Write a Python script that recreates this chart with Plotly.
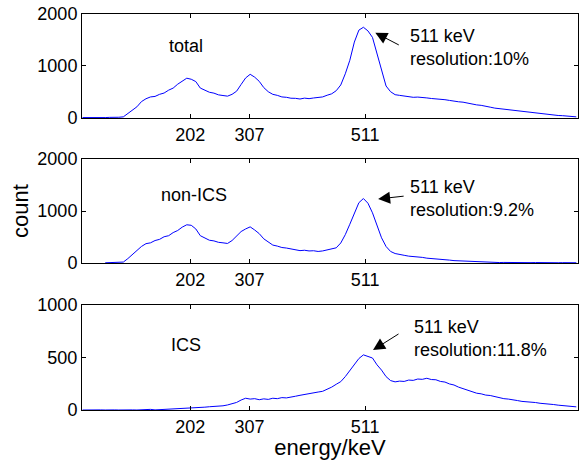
import plotly.graph_objects as go

# ---------------- data ----------------
energy = list(range(12, 885, 8))  # keV bin centres

total_counts = [8, 6, 9, 7, 10, 8, 12, 10, 14, 22,
                85, 150, 215, 315, 370, 405, 415, 455, 480, 535,
                575, 650, 710, 765, 745, 700, 575, 535, 495, 478,
                445, 432, 420, 455, 515, 645, 770, 840, 785, 705,
                585, 505, 455, 435, 405, 398, 380, 378, 365, 382,
                372, 385, 392, 405, 438, 465, 525, 635, 850, 1110,
                1460, 1690, 1745, 1675, 1550, 1240, 890, 615, 505, 448,
                435, 418, 412, 398, 402, 388, 386, 375, 372, 358,
                352, 338, 332, 312, 304, 282, 272, 252, 243, 220,
                208, 190, 180, 163, 155, 140, 133, 116, 110, 96,
                92, 78, 74, 63, 60, 48, 44, 34, 30, 22]

non_ics_counts = [None, None, None, None, None, 4, 6, 5, 9, 18,
                  85, 165, 250, 318, 372, 388, 432, 455, 505, 525,
                  585, 625, 690, 735, 725, 655, 525, 478, 438, 425,
                  398, 388, 376, 432, 515, 605, 655, 695, 635, 565,
                  465, 405, 345, 325, 298, 288, 268, 258, 238, 245,
                  232, 236, 222, 232, 248, 262, 292, 385, 545, 745,
                  955, 1160, 1240, 1150, 965, 715, 485, 318, 222, 182,
                  158, 148, 132, 127, 112, 108, 93, 88, 76, 72,
                  60, 56, 46, 42, 33, 30, 22, 21, 15, 15,
                  11, 12, 9, 11, 8, 10, 7, 9, 8, 7,
                  9, 6, 8, 6, 7, 5, 7, 5, 6, 5]

ics_counts = [0, 2, 0, 3, 1, 0, 4, 1, 0, 2,
              5, 1, 0, 3, 2, 6, 1, 3, 4, 6,
              8, 9, 12, 14, 18, 20, 25, 27, 31, 33,
              36, 40, 48, 58, 72, 95, 112, 104, 108, 98,
              106, 101, 112, 108, 118, 115, 126, 131, 140, 146,
              155, 160, 171, 178, 195, 218, 245, 270, 318, 372,
              430, 490, 525, 510, 495, 430, 380, 318, 280, 268,
              275, 272, 285, 282, 295, 292, 302, 290, 288, 272,
              266, 248, 238, 218, 205, 185, 176, 160, 154, 142,
              138, 126, 120, 108, 104, 94, 90, 82, 80, 73,
              71, 64, 62, 55, 52, 46, 43, 38, 35, 30]

x_tick_vals = [202, 307, 511]
panel_names = ["total", "non-ICS", "ICS"]
resolutions = ["10%", "9.2%", "11.8%"]
y_maxes = [2000, 2000, 1000]
y_tick_sets = [[0, 1000, 2000], [0, 1000, 2000], [0, 500, 1000]]

# ---------------- figure ----------------
FONT = "Arial, Liberation Sans, sans-serif"
fig = go.Figure()
series = [total_counts, non_ics_counts, ics_counts]
for i, s in enumerate(series):
    fig.add_trace(go.Scatter(
        x=energy, y=s, mode="lines",
        line=dict(color="#0000ff", width=1),
        xaxis="x" if i == 0 else f"x{i+1}",
        yaxis="y" if i == 0 else f"y{i+1}",
        showlegend=False, connectgaps=False))

domains = [[0.7374, 1.0], [0.3712, 0.6338], [0.0, 0.2652]]
axis_common = dict(showline=True, linecolor="black", linewidth=1, mirror="ticks",
                   ticks="inside", ticklen=4, tickcolor="black", showgrid=False,
                   zeroline=False, tickfont=dict(family=FONT, size=18, color="black"))
layout = {}
for i in range(3):
    xa = "xaxis" if i == 0 else f"xaxis{i+1}"
    ya = "yaxis" if i == 0 else f"yaxis{i+1}"
    ax_anchor = "y" if i == 0 else f"y{i+1}"
    ay_anchor = "x" if i == 0 else f"x{i+1}"
    layout[xa] = dict(axis_common, range=[11, 887], tickvals=x_tick_vals,
                      domain=[0, 1], anchor=ax_anchor)
    layout[ya] = dict(axis_common, range=[0, y_maxes[i]], tickvals=y_tick_sets[i],
                      domain=domains[i], anchor=ay_anchor)

layout["yaxis2"]["title"] = dict(text="count", font=dict(family=FONT, size=22, color="black"),
                                 standoff=2)
layout["xaxis3"]["title"] = dict(text="energy/keV", font=dict(family=FONT, size=22, color="black"),
                                 standoff=4)

fig.update_layout(**layout)

# panel labels and peak annotations (data coordinates)
label_pos = [(195, 1385), (209, 1308), (195, 619)]
text_pos = [(586, 1365), (586, 1240), (594, 681)]
arrow_head = [(529, 1640), (534, 1231), (525, 571)]
arrow_off = [(25, 13), (27, -3), (27, -17)]
annots = []
for i in range(3):
    xr = "x" if i == 0 else f"x{i+1}"
    yr = "y" if i == 0 else f"y{i+1}"
    annots.append(dict(x=label_pos[i][0], y=label_pos[i][1], xref=xr, yref=yr,
                       text=panel_names[i], showarrow=False,
                       font=dict(family=FONT, size=18, color="black")))
    annots.append(dict(x=text_pos[i][0], y=text_pos[i][1], xref=xr, yref=yr,
                       text=f"511 keV<br>resolution:{resolutions[i]}", showarrow=False,
                       xanchor="left", yanchor="middle", align="left",
                       font=dict(family=FONT, size=18, color="black")))
    annots.append(dict(x=arrow_head[i][0], y=arrow_head[i][1], xref=xr, yref=yr,
                       text="", showarrow=True, arrowhead=2, arrowsize=2.4,
                       arrowwidth=1, arrowcolor="black",
                       ax=arrow_off[i][0], ay=arrow_off[i][1]))

fig.update_layout(
    annotations=annots,
    width=579, height=460,
    margin=dict(l=82, r=1, t=14, b=50),
    paper_bgcolor="white", plot_bgcolor="white",
    font=dict(family=FONT, size=18, color="black"),
)

fig.write_html("out.html", config={"displayModeBar": False},
               post_script="document.body.style.margin='0';document.body.style.overflow='hidden';")
